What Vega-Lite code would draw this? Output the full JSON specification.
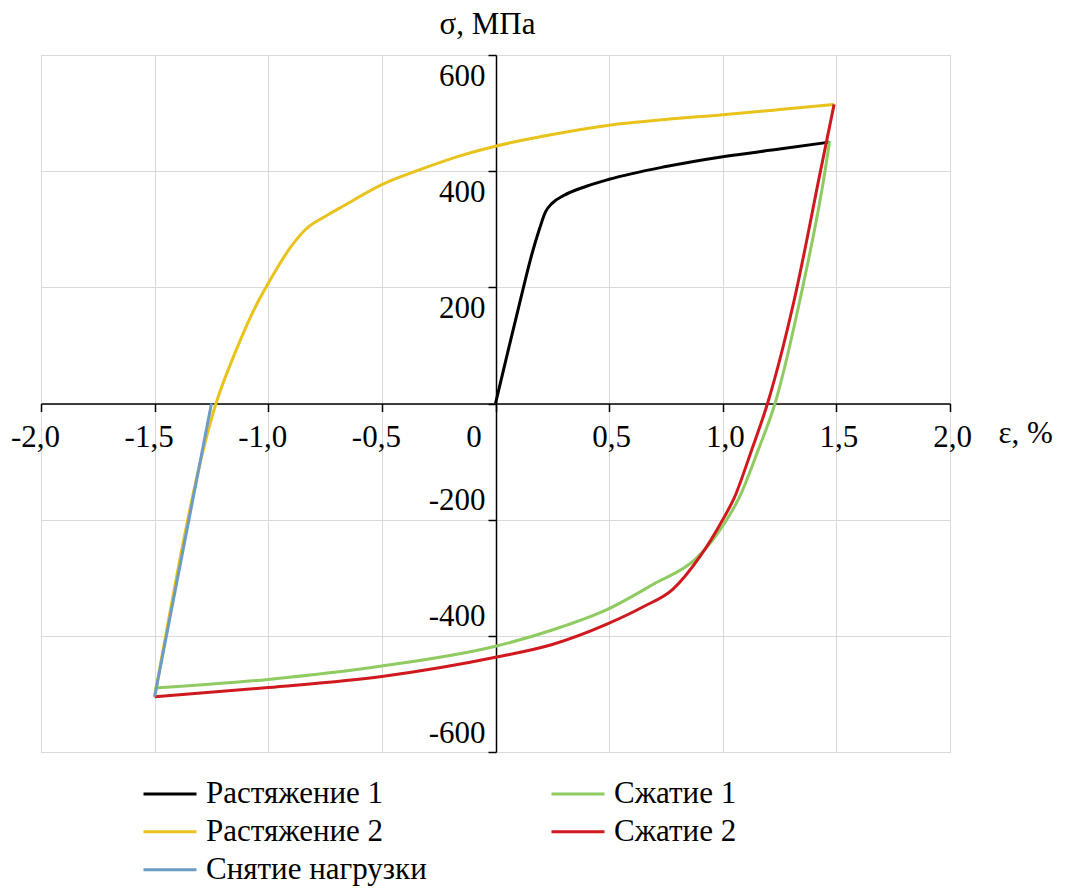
{
  "$schema": "https://vega.github.io/schema/vega-lite/v6.json",
  "width": 909,
  "height": 697,
  "autosize": {"type": "none"},
  "padding": {"left": 41, "top": 55, "right": 115, "bottom": 139},
  "background": "white",
  "config": {"view": {"stroke": "#D9D9D9"}, "font": "Liberation Serif"},
  "data": {
    "values": [
      {"series": "Растяжение 1", "eps": 0, "sigma": 0},
      {"series": "Растяжение 1", "eps": 0.05, "sigma": 82},
      {"series": "Растяжение 1", "eps": 0.11, "sigma": 179},
      {"series": "Растяжение 1", "eps": 0.16, "sigma": 257},
      {"series": "Растяжение 1", "eps": 0.193, "sigma": 300},
      {"series": "Растяжение 1", "eps": 0.22, "sigma": 330},
      {"series": "Растяжение 1", "eps": 0.25, "sigma": 345},
      {"series": "Растяжение 1", "eps": 0.3, "sigma": 358},
      {"series": "Растяжение 1", "eps": 0.4, "sigma": 374},
      {"series": "Растяжение 1", "eps": 0.5, "sigma": 386},
      {"series": "Растяжение 1", "eps": 0.75, "sigma": 408},
      {"series": "Растяжение 1", "eps": 1.0, "sigma": 425},
      {"series": "Растяжение 1", "eps": 1.25, "sigma": 438},
      {"series": "Растяжение 1", "eps": 1.47, "sigma": 450},

      {"series": "Растяжение 2", "eps": -1.5, "sigma": -505},
      {"series": "Растяжение 2", "eps": -1.23, "sigma": 0},
      {"series": "Растяжение 2", "eps": -1.14, "sigma": 93},
      {"series": "Растяжение 2", "eps": -1.04, "sigma": 179},
      {"series": "Растяжение 2", "eps": -1.01, "sigma": 200},
      {"series": "Растяжение 2", "eps": -0.9, "sigma": 270},
      {"series": "Растяжение 2", "eps": -0.835, "sigma": 300},
      {"series": "Растяжение 2", "eps": -0.75, "sigma": 322},
      {"series": "Растяжение 2", "eps": -0.67, "sigma": 340},
      {"series": "Растяжение 2", "eps": -0.5, "sigma": 377},
      {"series": "Растяжение 2", "eps": -0.33, "sigma": 403},
      {"series": "Растяжение 2", "eps": -0.16, "sigma": 426},
      {"series": "Растяжение 2", "eps": 0, "sigma": 443},
      {"series": "Растяжение 2", "eps": 0.25, "sigma": 463},
      {"series": "Растяжение 2", "eps": 0.5, "sigma": 479},
      {"series": "Растяжение 2", "eps": 0.75, "sigma": 489},
      {"series": "Растяжение 2", "eps": 1.0, "sigma": 497},
      {"series": "Растяжение 2", "eps": 1.25, "sigma": 506},
      {"series": "Растяжение 2", "eps": 1.49, "sigma": 515},

      {"series": "Сжатие 1", "eps": -1.5, "sigma": -490},
      {"series": "Сжатие 1", "eps": -1.0, "sigma": -475},
      {"series": "Сжатие 1", "eps": -0.5, "sigma": -452},
      {"series": "Сжатие 1", "eps": 0, "sigma": -418},
      {"series": "Сжатие 1", "eps": 0.25, "sigma": -390},
      {"series": "Сжатие 1", "eps": 0.49, "sigma": -355},
      {"series": "Сжатие 1", "eps": 0.7, "sigma": -310},
      {"series": "Сжатие 1", "eps": 0.88, "sigma": -268},
      {"series": "Сжатие 1", "eps": 0.95, "sigma": -238},
      {"series": "Сжатие 1", "eps": 1.01, "sigma": -205},
      {"series": "Сжатие 1", "eps": 1.075, "sigma": -160},
      {"series": "Сжатие 1", "eps": 1.157, "sigma": -79},
      {"series": "Сжатие 1", "eps": 1.23, "sigma": 0},
      {"series": "Сжатие 1", "eps": 1.34, "sigma": 179},
      {"series": "Сжатие 1", "eps": 1.45, "sigma": 400},
      {"series": "Сжатие 1", "eps": 1.47, "sigma": 451},

      {"series": "Сжатие 2", "eps": -1.5, "sigma": -505},
      {"series": "Сжатие 2", "eps": -1.0, "sigma": -489},
      {"series": "Сжатие 2", "eps": -0.5, "sigma": -470},
      {"series": "Сжатие 2", "eps": 0, "sigma": -437},
      {"series": "Сжатие 2", "eps": 0.25, "sigma": -415},
      {"series": "Сжатие 2", "eps": 0.49, "sigma": -380},
      {"series": "Сжатие 2", "eps": 0.65, "sigma": -350},
      {"series": "Сжатие 2", "eps": 0.78, "sigma": -320},
      {"series": "Сжатие 2", "eps": 0.897, "sigma": -265},
      {"series": "Сжатие 2", "eps": 1.0, "sigma": -200},
      {"series": "Сжатие 2", "eps": 1.05, "sigma": -163},
      {"series": "Сжатие 2", "eps": 1.128, "sigma": -79},
      {"series": "Сжатие 2", "eps": 1.197, "sigma": 0},
      {"series": "Сжатие 2", "eps": 1.315, "sigma": 179},
      {"series": "Сжатие 2", "eps": 1.43, "sigma": 400},
      {"series": "Сжатие 2", "eps": 1.49, "sigma": 515},

      {"series": "Снятие нагрузки", "eps": -1.5, "sigma": -505},
      {"series": "Снятие нагрузки", "eps": -1.25, "sigma": 0}
    ]
  },
  "mark": {"type": "line", "interpolate": "monotone", "strokeWidth": 3},
  "encoding": {
    "x": {
      "field": "eps",
      "type": "quantitative",
      "scale": {"domain": [-2, 2], "nice": false, "zero": false},
      "axis": {
        "orient": "bottom",
        "offset": -348.5,
        "values": [-2, -1.5, -1, -0.5, 0, 0.5, 1, 1.5, 2],
        "grid": true,
        "gridColor": "#D9D9D9",
        "gridWidth": 1,
        "domainColor": "#000000",
        "domainWidth": 1.5,
        "tickColor": "#000000",
        "tickWidth": 1.5,
        "tickSize": 8,
        "labelFont": "Liberation Serif",
        "labelFontSize": 31,
        "labelColor": "#000000",
        "labelBaseline": "alphabetic",
        "labelAlign": "center",
        "labelPadding": 35,
        "labelOverlap": false,
        "labelFlush": false,
        "labelOffset": {"expr": "datum.value == 0 ? -22 : (datum.value < 0 ? -6 : 2)"},
        "labelExpr": "datum.value == 0 ? '0' : (datum.value < 0 ? '-' : '') + replace(format(abs(datum.value), '.1f'), '.', ',')",
        "title": "ε, %",
        "titleFont": "Liberation Serif",
        "titleFontSize": 31,
        "titleFontWeight": "normal",
        "titleColor": "#000000",
        "titleAngle": 0,
        "titleAlign": "left",
        "titleBaseline": "alphabetic",
        "titleX": 957,
        "titleY": 39
      }
    },
    "y": {
      "field": "sigma",
      "type": "quantitative",
      "scale": {"domain": [-600, 600], "nice": false},
      "axis": {
        "orient": "left",
        "offset": -455,
        "values": [-600, -400, -200, 0, 200, 400, 600],
        "grid": true,
        "gridColor": "#D9D9D9",
        "gridWidth": 1,
        "domainColor": "#000000",
        "domainWidth": 1.5,
        "tickColor": "#000000",
        "tickWidth": 1.5,
        "tickSize": 8,
        "labelFont": "Liberation Serif",
        "labelFontSize": 31,
        "labelColor": "#000000",
        "labelBaseline": "alphabetic",
        "labelAlign": "right",
        "labelPadding": 3,
        "labelOverlap": false,
        "labelFlush": false,
        "labelOffset": {"expr": "datum.value > 0 ? 30 : -10"},
        "labelExpr": "datum.value == 0 ? '' : (datum.value < 0 ? '-' : '') + abs(datum.value)",
        "title": "σ, МПа",
        "titleFont": "Liberation Serif",
        "titleFontSize": 31,
        "titleFontWeight": "normal",
        "titleColor": "#000000",
        "titleAngle": 0,
        "titleAlign": "center",
        "titleBaseline": "alphabetic",
        "titleX": -9,
        "titleY": -22
      }
    },
    "color": {
      "field": "series",
      "type": "nominal",
      "sort": ["Растяжение 1", "Растяжение 2", "Снятие нагрузки", "Сжатие 1", "Сжатие 2"],
      "scale": {
        "domain": ["Растяжение 1", "Растяжение 2", "Снятие нагрузки", "Сжатие 1", "Сжатие 2"],
        "range": ["#000000", "#E9C21C", "#6C9BC4", "#8FCB60", "#D0191E"]
      },
      "legend": {
        "orient": "none",
        "legendX": 101,
        "legendY": 720,
        "direction": "vertical",
        "columns": 2,
        "title": null,
        "padding": 0,
        "symbolType": "stroke",
        "symbolSize": 2809,
        "symbolStrokeWidth": 3,
        "labelFont": "Liberation Serif",
        "labelFontSize": 31,
        "labelColor": "#000000",
        "labelOffset": 8,
        "labelLimit": 400,
        "clipHeight": 37.5,
        "rowPadding": 0,
        "columnPadding": 123
      }
    }
  }
}
